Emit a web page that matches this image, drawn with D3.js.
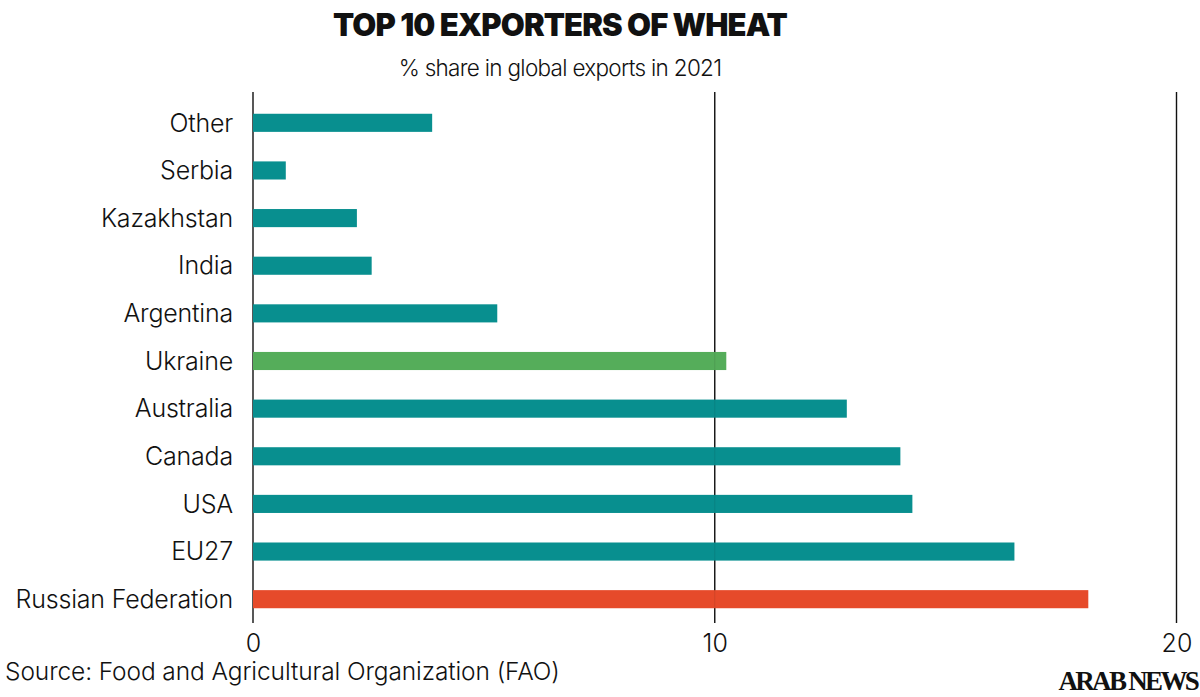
<!DOCTYPE html>
<html><head><meta charset="utf-8">
<script src="https://cdn.jsdelivr.net/npm/d3@7"></script>
<style>body{margin:0;background:#fff}svg{display:block}</style>
</head><body>
<svg id="c" width="1200" height="697"></svg>
<script>
const categories = ["Other","Serbia","Kazakhstan","India","Argentina","Ukraine","Australia","Canada","USA","EU27","Russian Federation"];
const values = [3.88,0.71,2.25,2.57,5.29,10.25,12.86,14.02,14.28,16.49,18.09];
const barColors = ["#088f8f","#088f8f","#088f8f","#088f8f","#088f8f","#55ad5a","#088f8f","#088f8f","#088f8f","#088f8f","#e64a2a"];
const tickValues = [0,10,20];

const svg = d3.select("#c");
const x = d3.scaleLinear().domain([0,20]).range([253,1176.5]);
const y = d3.scaleBand().domain(categories).range([99,623]).paddingInner(0.62).paddingOuter(0.31);
const FONT = "Inter, 'Noto Sans', sans-serif";

svg.append("text").attr("x",560).attr("y",36).attr("text-anchor","middle")
  .attr("font-family",FONT).attr("font-weight",900)
  .attr("font-size",31).attr("fill","#111").attr("letter-spacing",-0.9).text("TOP 10 EXPORTERS OF WHEAT");
svg.append("text").attr("x",560).attr("y",76).attr("text-anchor","middle")
  .attr("font-family",FONT).attr("font-weight",300)
  .attr("font-size",22.5).attr("fill","#111").attr("letter-spacing",-0.7).text("% share in global exports in 2021");

// grid lines (behind bars)
svg.append("g").selectAll("line").data(tickValues).join("line")
  .attr("x1",d=>x(d)).attr("x2",d=>x(d)).attr("y1",92).attr("y2",623)
  .attr("stroke","#111").attr("stroke-width",1.4);

// bars
svg.append("g").selectAll("rect").data(categories).join("rect")
  .attr("x",x(0)).attr("y",d=>y(d)).attr("height",y.bandwidth())
  .attr("width",(d,i)=>x(values[i])-x(0)).attr("fill",(d,i)=>barColors[i]);

// faint grid overlay
svg.append("g").selectAll("line").data(tickValues.filter(d=>d>0)).join("line")
  .attr("x1",d=>x(d)).attr("x2",d=>x(d)).attr("y1",92).attr("y2",623)
  .attr("stroke","#111").attr("stroke-width",1).attr("stroke-opacity",0.1);

const xAxis = d3.axisBottom(x).tickValues(tickValues).tickSize(0).tickPadding(0).tickFormat(d3.format("d"));
const ax = svg.append("g").attr("transform","translate(0,652)").call(xAxis);
ax.select(".domain").remove();
ax.selectAll("text").attr("font-family",FONT).attr("font-weight",300)
  .attr("font-size",25).attr("fill","#111").attr("dy",0).attr("y",0);

const yAxis = d3.axisLeft(y).tickSize(0).tickPadding(20);
const ay = svg.append("g").attr("transform",`translate(${x(0)},0)`).call(yAxis);
ay.select(".domain").remove();
ay.selectAll("text").attr("font-family",FONT).attr("font-weight",300)
  .attr("font-size",25).attr("fill","#111").attr("letter-spacing",-0.2).attr("dy","0.35em");

svg.append("text").attr("x",5).attr("y",680)
  .attr("font-family",FONT).attr("font-weight",300)
  .attr("font-size",24.5).attr("fill","#111").attr("letter-spacing",-0.1).text("Source: Food and Agricultural Organization (FAO)");
svg.append("text").attr("x",1197).attr("y",690).attr("text-anchor","end")
  .attr("font-family","'Liberation Serif', 'DejaVu Serif', serif").attr("font-weight",700)
  .attr("font-size",27).attr("fill","#111").attr("letter-spacing",-2.7).text("ARAB NEWS");
</script>
</body></html>
